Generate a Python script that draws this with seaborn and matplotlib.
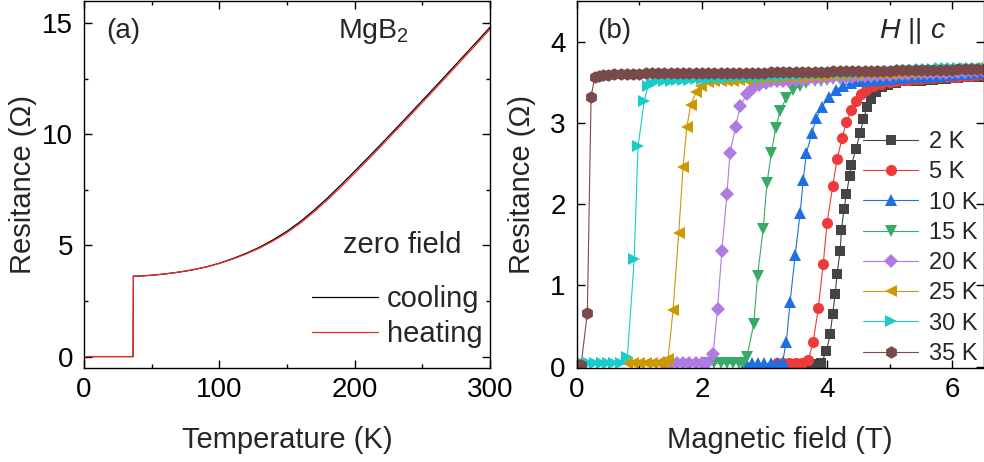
import matplotlib
matplotlib.use("Agg")
import matplotlib.pyplot as plt
import seaborn as sns
from matplotlib.ticker import MultipleLocator

# ---------------- panel (a): R(T) in zero field ----------------
temps = [2, 10, 20, 30, 36.3, 36.5, 40, 50, 60, 70, 80, 90, 100, 110, 120, 130, 140,
         150, 160, 170, 180, 190, 200, 210, 220, 230, 240, 250, 260, 270, 280, 290, 300]
r_cool = [0, 0, 0, 0, 0, 3.62, 3.62, 3.66, 3.72, 3.80, 3.90, 4.03, 4.20, 4.41, 4.65, 4.93, 5.26,
          5.64, 6.08, 6.59, 7.14, 7.73, 8.34, 8.96, 9.59, 10.23, 10.87, 11.52, 12.17, 12.83, 13.49, 14.15, 14.82]
r_heat = [0, 0, 0, 0, 0, 3.62, 3.62, 3.66, 3.72, 3.80, 3.90, 4.03, 4.19, 4.39, 4.62, 4.89, 5.21,
          5.58, 6.01, 6.51, 7.06, 7.64, 8.25, 8.87, 9.50, 10.14, 10.78, 11.43, 12.08, 12.74, 13.40, 14.06, 14.73]
sweep_labels = ["cooling", "heating"]

# ---------------- panel (b): R(H) at fixed temperatures ----------------
labels_b = ["2 K", "5 K", "10 K", "15 K", "20 K", "25 K", "30 K", "35 K"]

h_2K = [3.4, 3.5, 3.6, 3.7, 3.78,
        3.85, 3.91, 3.99, 4.05, 4.09, 4.13, 4.16, 4.21, 4.23, 4.27, 4.31, 4.36, 4.39, 4.46, 4.53,
        4.58, 4.64, 4.71, 4.79, 4.88, 4.98, 5.1,
        5.2, 5.3, 5.4, 5.5, 5.6, 5.7, 5.8, 5.9, 6.0,
        6.1, 6.2, 6.3, 6.4, 6.5]
r_2K = [0.03, 0.03, 0.03, 0.03, 0.03,
        0.02, 0.05, 0.19, 0.40, 0.65, 0.89, 1.14, 1.43, 1.68, 1.94, 2.12, 2.35, 2.48, 2.68, 2.87,
        3.05, 3.19, 3.30, 3.38, 3.44, 3.47, 3.49,
        3.51, 3.51, 3.52, 3.52, 3.53, 3.53, 3.54, 3.54, 3.55,
        3.55, 3.56, 3.56, 3.57, 3.57]

h_5K = [3.2, 3.3, 3.4, 3.5, 3.6,
        3.70, 3.78, 3.86, 3.94, 4.0, 4.09, 4.16, 4.24, 4.31, 4.39, 4.46, 4.54, 4.63, 4.74, 4.86, 5.0,
        5.1, 5.2, 5.3, 5.4, 5.5, 5.6, 5.7, 5.8, 5.9, 6.0,
        6.1, 6.2, 6.3, 6.4, 6.5]
r_5K = [0.04, 0.04, 0.04, 0.04, 0.04,
        0.08, 0.31, 0.72, 1.27, 1.77, 2.22, 2.55, 2.81, 3.01, 3.16, 3.27, 3.35, 3.41, 3.45, 3.48, 3.50,
        3.52, 3.53, 3.53, 3.54, 3.54, 3.55, 3.55, 3.56, 3.56, 3.57,
        3.57, 3.58, 3.58, 3.59, 3.59]

h_10K = [2.7, 2.8, 2.9, 3.0, 3.1, 3.2,
         3.29, 3.35, 3.41, 3.49, 3.57, 3.62, 3.67, 3.76, 3.83, 3.92, 4.03, 4.15, 4.26, 4.38, 4.5,
         4.6, 4.7, 4.8, 4.9, 5.0,
         5.1, 5.2, 5.3, 5.4, 5.5, 5.6, 5.7, 5.8, 5.9, 6.0,
         6.1, 6.2, 6.3, 6.4, 6.5]
r_10K = [0.04, 0.04, 0.04, 0.04, 0.04, 0.04,
         0.06, 0.31, 0.80, 1.37, 1.89, 2.30, 2.63, 2.88, 3.06, 3.20, 3.32, 3.41, 3.46, 3.49, 3.51,
         3.52, 3.53, 3.53, 3.54, 3.54,
         3.55, 3.55, 3.56, 3.56, 3.57, 3.57, 3.58, 3.58, 3.59, 3.59,
         3.60, 3.60, 3.61, 3.61, 3.62]

h_15K = [2.1, 2.2, 2.3, 2.4, 2.5, 2.6, 2.65,
         2.72, 2.83, 2.89, 2.98, 3.04, 3.11, 3.18, 3.25, 3.35, 3.46, 3.57, 3.67, 3.8, 3.9, 4.0,
         4.1, 4.2, 4.3, 4.4, 4.5, 4.6, 4.7, 4.8, 4.9, 5.0,
         5.1, 5.2, 5.3, 5.4, 5.5, 5.6, 5.7, 5.8, 5.9, 6.0,
         6.1, 6.2, 6.3, 6.4, 6.5]
r_15K = [0.04, 0.04, 0.04, 0.04, 0.04, 0.04, 0.04,
         0.12, 0.53, 1.12, 1.70, 2.26, 2.63, 2.94, 3.15, 3.31, 3.41, 3.46, 3.49, 3.51, 3.52, 3.53,
         3.54, 3.54, 3.55, 3.55, 3.56, 3.56, 3.57, 3.57, 3.58, 3.58,
         3.58, 3.59, 3.59, 3.59, 3.60, 3.60, 3.60, 3.61, 3.61, 3.61,
         3.62, 3.62, 3.62, 3.63, 3.63]

h_20K = [1.4, 1.5, 1.6, 1.7, 1.8, 1.9, 2.0, 2.08,
         2.18, 2.25, 2.32, 2.40, 2.45, 2.54, 2.61, 2.72, 2.82, 2.92, 3.02,
         3.1, 3.2, 3.3, 3.4, 3.5, 3.6, 3.7, 3.8, 3.9, 4.0,
         4.1, 4.2, 4.3, 4.4, 4.5, 4.6, 4.7, 4.8, 4.9, 5.0,
         5.1, 5.2, 5.3, 5.4, 5.5, 5.6, 5.7, 5.8, 5.9, 6.0,
         6.1, 6.2, 6.3, 6.4, 6.5]
r_20K = [0.04, 0.04, 0.04, 0.04, 0.04, 0.04, 0.04, 0.04,
         0.16, 0.71, 1.43, 2.12, 2.63, 2.95, 3.21, 3.35, 3.43, 3.47, 3.49,
         3.51, 3.51, 3.52, 3.52, 3.53, 3.53, 3.54, 3.54, 3.55, 3.55,
         3.56, 3.56, 3.57, 3.57, 3.58, 3.58, 3.58, 3.59, 3.59, 3.59,
         3.60, 3.60, 3.60, 3.61, 3.61, 3.61, 3.62, 3.62, 3.62, 3.63,
         3.63, 3.63, 3.64, 3.64, 3.64]

h_25K = [0.8, 0.9, 1.0, 1.1, 1.2, 1.3, 1.4,
         1.46, 1.54, 1.63, 1.70, 1.76, 1.82, 1.91, 1.99, 2.1,
         2.2, 2.3, 2.4, 2.5, 2.6, 2.7, 2.8, 2.9, 3.0,
         3.1, 3.2, 3.3, 3.4, 3.5, 3.6, 3.7, 3.8, 3.9, 4.0,
         4.1, 4.2, 4.3, 4.4, 4.5, 4.6, 4.7, 4.8, 4.9, 5.0,
         5.1, 5.2, 5.3, 5.4, 5.5, 5.6, 5.7, 5.8, 5.9, 6.0,
         6.1, 6.2, 6.3, 6.4, 6.5]
r_25K = [0.04, 0.04, 0.04, 0.04, 0.04, 0.04, 0.04,
         0.10, 0.70, 1.64, 2.46, 2.95, 3.22, 3.38, 3.46, 3.50,
         3.51, 3.51, 3.52, 3.52, 3.53, 3.53, 3.54, 3.54, 3.55,
         3.55, 3.56, 3.56, 3.57, 3.57, 3.57, 3.58, 3.58, 3.58, 3.59,
         3.59, 3.59, 3.60, 3.60, 3.60, 3.61, 3.61, 3.61, 3.62, 3.62,
         3.62, 3.63, 3.63, 3.63, 3.64, 3.64, 3.64, 3.65, 3.65, 3.65,
         3.66, 3.66, 3.66, 3.67, 3.67]

h_30K = [0.1, 0.2, 0.3, 0.4, 0.5, 0.6, 0.7,
         0.81, 0.92, 0.98, 1.08, 1.14, 1.21, 1.3, 1.4,
         1.5, 1.6, 1.7, 1.8, 1.9, 2.0,
         2.1, 2.2, 2.3, 2.4, 2.5, 2.6, 2.7, 2.8, 2.9, 3.0,
         3.1, 3.2, 3.3, 3.4, 3.5, 3.6, 3.7, 3.8, 3.9, 4.0,
         4.1, 4.2, 4.3, 4.4, 4.5, 4.6, 4.7, 4.8, 4.9, 5.0,
         5.1, 5.2, 5.3, 5.4, 5.5, 5.6, 5.7, 5.8, 5.9, 6.0,
         6.1, 6.2, 6.3, 6.4, 6.5]
r_30K = [0.04, 0.04, 0.04, 0.04, 0.04, 0.04, 0.04,
         0.12, 1.33, 2.71, 3.27, 3.45, 3.49, 3.51, 3.52,
         3.52, 3.53, 3.53, 3.53, 3.54, 3.54,
         3.54, 3.55, 3.55, 3.55, 3.56, 3.56, 3.56, 3.57, 3.57, 3.57,
         3.58, 3.58, 3.58, 3.59, 3.59, 3.59, 3.60, 3.60, 3.60, 3.61,
         3.61, 3.61, 3.62, 3.62, 3.62, 3.63, 3.63, 3.63, 3.64, 3.64,
         3.64, 3.65, 3.65, 3.65, 3.66, 3.66, 3.66, 3.67, 3.67, 3.67,
         3.67, 3.68, 3.68, 3.68, 3.68]

h_35K = [0.0, 0.07, 0.17, 0.23, 0.29, 0.35, 0.42, 0.5,
         0.6, 0.7, 0.8, 0.9, 1.0, 1.1, 1.2, 1.3, 1.4, 1.5, 1.6, 1.7, 1.8, 1.9, 2.0,
         2.1, 2.2, 2.3, 2.4, 2.5, 2.6, 2.7, 2.8, 2.9, 3.0,
         3.1, 3.2, 3.3, 3.4, 3.5, 3.6, 3.7, 3.8, 3.9, 4.0,
         4.1, 4.2, 4.3, 4.4, 4.5, 4.6, 4.7, 4.8, 4.9, 5.0,
         5.1, 5.2, 5.3, 5.4, 5.5, 5.6, 5.7, 5.8, 5.9, 6.0,
         6.1, 6.2, 6.3, 6.4, 6.5]
r_35K = [0.02, 0.02, 0.66, 3.32, 3.57, 3.58, 3.59, 3.59,
         3.60, 3.60, 3.60, 3.60, 3.60, 3.61, 3.61, 3.61, 3.61, 3.61, 3.61, 3.61, 3.61, 3.61, 3.61,
         3.62, 3.62, 3.62, 3.62, 3.62, 3.62, 3.62, 3.62, 3.62, 3.62,
         3.63, 3.63, 3.63, 3.63, 3.63, 3.63, 3.63, 3.63, 3.63, 3.63,
         3.64, 3.64, 3.64, 3.64, 3.64, 3.64, 3.64, 3.64, 3.64, 3.64,
         3.65, 3.65, 3.65, 3.65, 3.65, 3.65, 3.65, 3.65, 3.65, 3.65,
         3.66, 3.66, 3.66, 3.66, 3.66]

fields_b = [h_2K, h_5K, h_10K, h_15K, h_20K, h_25K, h_30K, h_35K]
resist_b = [r_2K, r_5K, r_10K, r_15K, r_20K, r_25K, r_30K, r_35K]
colors_b = ["#444444", "#ee3a3a", "#1f6fe0", "#38aa66", "#b07be0", "#cc9900", "#18cccc", "#7a4a4a"]
markers_b = ["s", "o", "^", "v", "D", "<", ">", "h"]
msizes_b = [7, 8, 8.5, 8.5, 7.5, 8.5, 8.5, 9]

# ---------------- style ----------------
sns.set_theme(style="ticks")
plt.rcParams["font.family"] = ["Liberation Sans", "DejaVu Sans"]
plt.rcParams["mathtext.fontset"] = "custom"
plt.rcParams["mathtext.rm"] = "Liberation Sans"
plt.rcParams["mathtext.it"] = "Liberation Sans:italic"
plt.rcParams["axes.linewidth"] = 1.0
plt.rcParams["axes.edgecolor"] = "black"

fig = plt.figure(figsize=(9.84, 4.62), dpi=100)
W, Hpx = 984.0, 462.0
ax1 = fig.add_axes([84 / W, 1 - 367.7 / Hpx, (490 - 84) / W, (367.7 - 1) / Hpx])
ax2 = fig.add_axes([576.7 / W, 1 - 367.7 / Hpx, (983.5 - 576.7) / W, (367.7 - 1) / Hpx])

# panel (a)
sns.lineplot(x=temps, y=r_cool, ax=ax1, color="black", linewidth=0.9, sort=False,
             estimator=None, label=sweep_labels[0])
sns.lineplot(x=temps, y=r_heat, ax=ax1, color="#ee2a2a", linewidth=0.9, sort=False,
             estimator=None, label=sweep_labels[1])
ax1.set_xlim(0, 300)
ax1.set_ylim(-0.5, 16)
ax1.xaxis.set_major_locator(MultipleLocator(100))
ax1.xaxis.set_minor_locator(MultipleLocator(50))
ax1.yaxis.set_major_locator(MultipleLocator(5))
ax1.yaxis.set_minor_locator(MultipleLocator(2.5))
h1, l1 = ax1.get_legend_handles_labels()
ax1.legend(h1, l1, loc="upper left", bbox_to_anchor=(311.7 / W, 1 - 285 / Hpx),
           bbox_transform=fig.transFigure, frameon=False, fontsize=21,
           handlelength=2.27, handletextpad=0.3, labelspacing=0.25,
           borderpad=0, borderaxespad=0)
ax1.text(0.054, 0.898, "(a)", transform=ax1.transAxes, fontsize=20, va="baseline", ha="left")
ax1.text(0.626, 0.898, "MgB$_2$", transform=ax1.transAxes, fontsize=20.5, va="baseline", ha="left")
ax1.text(0.638, 0.312, "zero field", transform=ax1.transAxes, fontsize=21, va="baseline", ha="left")
ax1.set_xlabel("Temperature (K)", fontsize=21)
ax1.set_ylabel("Resitance (Ω)", fontsize=21)

# panel (b)
for hx, ry, c, m, ms, lab in zip(fields_b, resist_b, colors_b, markers_b, msizes_b, labels_b):
    sns.lineplot(x=hx, y=ry, ax=ax2, color=c, linewidth=0.8, marker=m, markersize=ms,
                 markeredgewidth=0, sort=False, estimator=None, label=lab)
ax2.set_xlim(0, 6.5)
ax2.set_ylim(-0.012, 4.5)
ax2.xaxis.set_major_locator(MultipleLocator(2))
ax2.xaxis.set_minor_locator(MultipleLocator(1))
ax2.yaxis.set_major_locator(MultipleLocator(1))
h2, l2 = ax2.get_legend_handles_labels()
ax2.legend(h2, l2, loc="upper left", bbox_to_anchor=(863 / W, 1 - 131 / Hpx),
           bbox_transform=fig.transFigure, frameon=False, fontsize=17, numpoints=1,
           handlelength=2.33, handletextpad=0.45, labelspacing=0.35,
           borderpad=0, borderaxespad=0)
ax2.text(0.05, 0.898, "(b)", transform=ax2.transAxes, fontsize=20, va="baseline", ha="left")
ax2.text(0.742, 0.898, "$H$ || $c$", transform=ax2.transAxes, fontsize=20.5, va="baseline", ha="left")
ax2.set_xlabel("Magnetic field (T)", fontsize=21)
ax2.set_ylabel("Resitance (Ω)", fontsize=21)

for ax, ycoord in ((ax1, (31 - 84) / 406.0), (ax2, (530 - 576.7) / 406.3)):
    ax.tick_params(which="both", direction="in", top=True, right=True, width=1.0,
                   colors="black", labelsize=20)
    ax.tick_params(which="major", length=6)
    ax.tick_params(which="minor", length=3)
    ax.tick_params(axis="x", which="both", pad=7)
    ax.tick_params(axis="y", which="both", pad=8)
    for s in ax.spines.values():
        s.set_visible(True)
        s.set_linewidth(1.0)
        s.set_color("black")
    ax.xaxis.set_label_coords(0.5, (367.7 - 448) / 366.7)
    ax.xaxis.label.set_verticalalignment("baseline")
    ax.yaxis.set_label_coords(ycoord, 0.5)
    ax.yaxis.label.set_verticalalignment("baseline")
    ax.grid(False)

fig.savefig("out.png", dpi=100)
